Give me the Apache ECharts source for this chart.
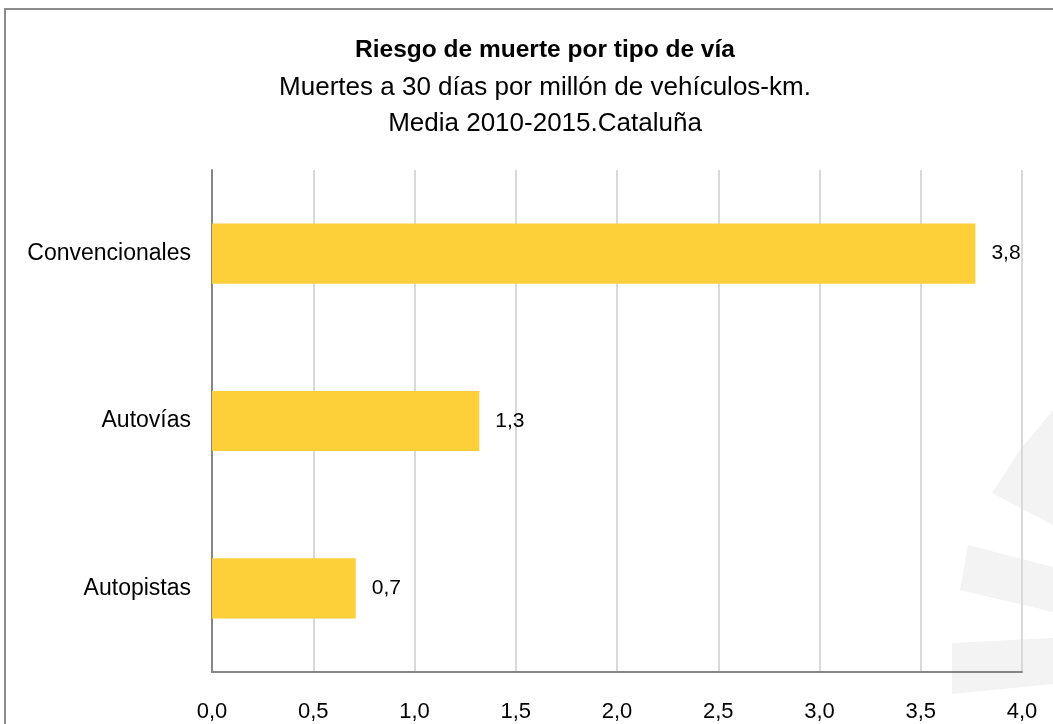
<!DOCTYPE html>
<html>
<head>
<meta charset="utf-8">
<script src="https://cdn.jsdelivr.net/npm/echarts@6/dist/echarts.min.js"></script>
<style>
  html, body { margin: 0; padding: 0; background: #fff; }
  #chart { width: 1053px; height: 724px; }
</style>
</head>
<body>
<div id="chart"></div>
<script>
// datos
const categorias = ['Autopistas', 'Autovías', 'Convencionales']
const riesgo = [0.71, 1.32, 3.77]
const etiquetas = ['0,7', '1,3', '3,8']

const myChart = echarts.init(document.getElementById('chart'))
const fuente = '"Liberation Sans", Arial, sans-serif'

const option = {
  backgroundColor: '#fff',
  animation: false,
  title: {
    text: 'Riesgo de muerte por tipo de vía',
    subtext: 'Muertes a 30 días por millón de vehículos-km.\nMedia 2010-2015.Cataluña',
    left: 540,
    top: 33,
    textAlign: 'center',
    itemGap: 7,
    textStyle: { fontFamily: fuente, fontSize: 24.5, fontWeight: 'bold', color: '#000' },
    subtextStyle: { fontFamily: fuente, fontSize: 26, color: '#000', lineHeight: 36 },
  },
  grid: { left: 212, right: 31, top: 170, bottom: 52, containLabel: false },
  xAxis: {
    type: 'value',
    min: 0,
    max: 4,
    interval: 0.5,
    axisLine: { show: true, lineStyle: { color: '#868686', width: 2 } },
    axisTick: { show: false },
    splitLine: { show: true, lineStyle: { color: '#d9d9d9', width: 2 } },
    axisLabel: {
      margin: 29,
      fontFamily: fuente,
      fontSize: 22,
      color: '#000',
      formatter: (v) => v.toFixed(1).replace('.', ','),
    },
  },
  yAxis: {
    type: 'category',
    data: categorias,
    axisLine: { show: true, lineStyle: { color: '#868686', width: 2 } },
    axisTick: { show: false },
    axisLabel: { margin: 21, fontFamily: fuente, fontSize: 23, color: '#000' },
  },
  graphic: [
    // marco
    {
      type: 'rect',
      shape: { x: 5, y: 9, width: 1100, height: 800 },
      style: { fill: 'none', stroke: '#8c8c8c', lineWidth: 2 },
      z: -10,
    },
    // marca de agua
    {
      type: 'polygon',
      shape: { points: [[992, 493], [1020, 450], [1053, 410], [1053, 525]] },
      style: { fill: '#f3f3f3' },
      z: -5,
    },
    {
      type: 'polygon',
      shape: { points: [[960, 590], [968, 545], [1053, 567], [1053, 612]] },
      style: { fill: '#f3f3f3' },
      z: -5,
    },
    {
      type: 'polygon',
      shape: { points: [[952, 643], [1053, 638], [1053, 684], [952, 694]] },
      style: { fill: '#f3f3f3' },
      z: -5,
    },
  ],
  series: [
    {
      type: 'bar',
      data: riesgo,
      barWidth: '36%',
      itemStyle: { color: '#fdcf38' },
      label: {
        show: true,
        position: 'right',
        distance: 16,
        fontFamily: fuente,
        fontSize: 21,
        color: '#000',
        formatter: (p) => etiquetas[p.dataIndex],
      },
    },
  ],
}

myChart.setOption(option)
</script>
</body>
</html>
